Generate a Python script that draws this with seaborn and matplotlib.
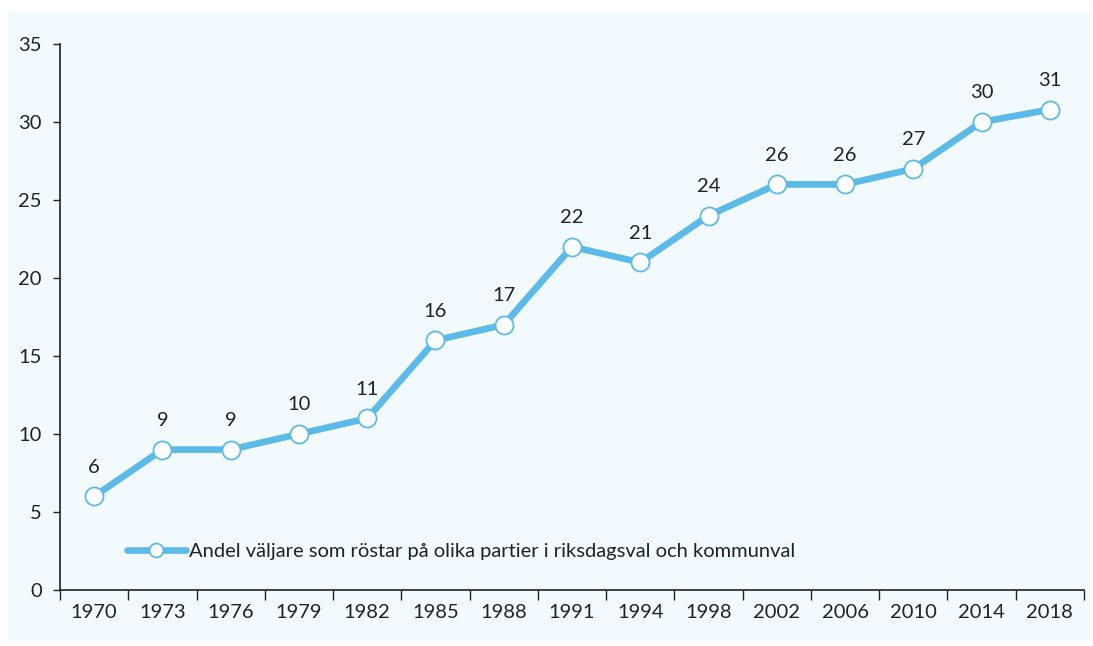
import numpy as np
import pandas as pd
import matplotlib.pyplot as plt
import seaborn as sns
from matplotlib.patches import Rectangle
from matplotlib.ticker import FixedLocator

sns.set_style("ticks")
plt.rcParams['font.family'] = ['Lato', 'DejaVu Sans']

years = ["1970", "1973", "1976", "1979", "1982", "1985", "1988", "1991",
         "1994", "1998", "2002", "2006", "2010", "2014", "2018"]
share = [6, 9, 9, 10, 11, 16, 17, 22, 21, 24, 26, 26, 27, 30, 30.8]
series_name = "Andel väljare som röstar på olika partier i riksdagsval och kommunval"

df = pd.DataFrame({"pos": np.arange(len(years)), "share": share})

blue = "#5bbae8"
bg = "#f2fafd"

fig = plt.figure(figsize=(10.93, 6.46), dpi=100)
fig.patches.append(Rectangle((8 / 1093, 6 / 646), 1082 / 1093, 628 / 646,
                             transform=fig.transFigure, facecolor=bg,
                             edgecolor="none", zorder=-10))
ax = fig.add_axes([60 / 1093, 56 / 646, 1024 / 1093, 546 / 646])
ax.set_facecolor("none")

sns.lineplot(data=df, x="pos", y="share", ax=ax, color=blue, linewidth=4.8,
             marker="o", markersize=13, markerfacecolor="white",
             markeredgecolor=blue, markeredgewidth=1.3, label=series_name)

for i, v in enumerate(share):
    ax.annotate(f"{round(v)}", (i, v), xytext=(0, 15), textcoords="offset points",
                ha="center", va="bottom", fontsize=14.5, color="#222222")

ax.set_xlim(-0.5, len(years) - 0.5)
ax.set_ylim(0, 35)
ax.set_yticks(range(0, 36, 5))
ax.xaxis.set_major_locator(FixedLocator(np.arange(-0.5, len(years), 1)))
ax.xaxis.set_minor_locator(FixedLocator(np.arange(len(years))))
ax.set_xticklabels([], minor=False)
ax.set_xticklabels(years, minor=True)
ax.tick_params(axis="x", which="major", length=7, width=1, color="#222222")
ax.tick_params(axis="x", which="minor", length=0, pad=10, labelsize=14.5, labelcolor="#222222")
ax.tick_params(axis="y", length=5, width=1, color="#222222", labelsize=14.5,
               labelcolor="#222222", pad=8)
ax.set_xlabel("")
ax.set_ylabel("")
sns.despine(ax=ax)
for s in ["left", "bottom"]:
    ax.spines[s].set_color("#222222")
    ax.spines[s].set_linewidth(1.2)

leg = ax.legend(loc="lower left", bbox_to_anchor=(0.048, 0.022), frameon=False,
                fontsize=14.5, handlelength=2.9, handletextpad=0.15,
                labelcolor="#222222")
for h in leg.legend_handles:
    h.set_markersize(10)

fig.savefig("out.png", dpi=100)
